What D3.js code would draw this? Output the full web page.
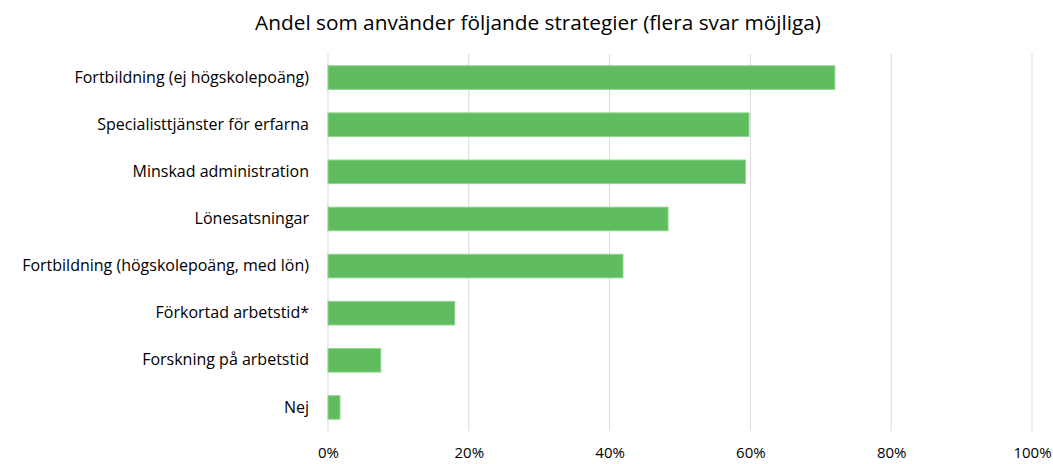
<!DOCTYPE html>
<html><head><meta charset="utf-8">
<script src="https://cdn.jsdelivr.net/npm/d3@7"></script>
<style>body{margin:0;background:#fff}svg{display:block}text{font-family:"Open Sans","Noto Sans",sans-serif;fill:#000}</style>
</head><body>
<script>
const title = "Andel som använder följande strategier (flera svar möjliga)";
const categories = ["Fortbildning (ej högskolepoäng)","Specialisttjänster för erfarna","Minskad administration","Lönesatsningar","Fortbildning (högskolepoäng, med lön)","Förkortad arbetstid*","Forskning på arbetstid","Nej"];
const values = [72.0, 59.8, 59.3, 48.3, 41.9, 18.0, 7.5, 1.7];
const ticks = [0, 20, 40, 60, 80, 100];

const W = 1053, H = 464;
const m = {top: 54, right: 21, bottom: 33, left: 328};
const svg = d3.select("body").append("svg").attr("width", W).attr("height", H);

const x = d3.scaleLinear().domain([0, 100]).range([m.left, W - m.right]);
const y = d3.scaleBand().domain(categories).range([m.top, H - m.bottom]).paddingInner(0.5).paddingOuter(0.25);

svg.append("text").attr("x", 538).attr("y", 30).attr("text-anchor", "middle")
  .style("font-size", "20.8px").text(title);

svg.append("g").selectAll("line").data(ticks).join("line")
  .attr("x1", d => x(d)).attr("x2", d => x(d))
  .attr("y1", m.top).attr("y2", H - m.bottom)
  .attr("stroke", "#d9d9d9").attr("stroke-width", 1);

svg.append("g").selectAll("rect").data(values).join("rect")
  .attr("x", x(0)).attr("y", (d, i) => y(categories[i]))
  .attr("width", d => x(d) - x(0)).attr("height", y.bandwidth())
  .attr("fill", "#5fbd5f").attr("stroke", "#8fd48f").attr("stroke-width", 1);

const xa = svg.append("g").attr("transform", `translate(0,${H - m.bottom})`)
  .call(d3.axisBottom(x).tickValues(ticks).tickFormat(d => d + "%").tickSize(0).tickPadding(16));
xa.select(".domain").remove();
xa.selectAll("text").style("font-size", "15px").style("font-family", '"Open Sans","Noto Sans",sans-serif').attr("fill", "#000");

const ya = svg.append("g").attr("transform", `translate(${m.left},0)`)
  .call(d3.axisLeft(y).tickSize(0).tickPadding(19));
ya.select(".domain").remove();
ya.selectAll("text").style("font-size", "16px").style("font-family", '"Open Sans","Noto Sans",sans-serif').attr("fill", "#000");
</script>
</body></html>
